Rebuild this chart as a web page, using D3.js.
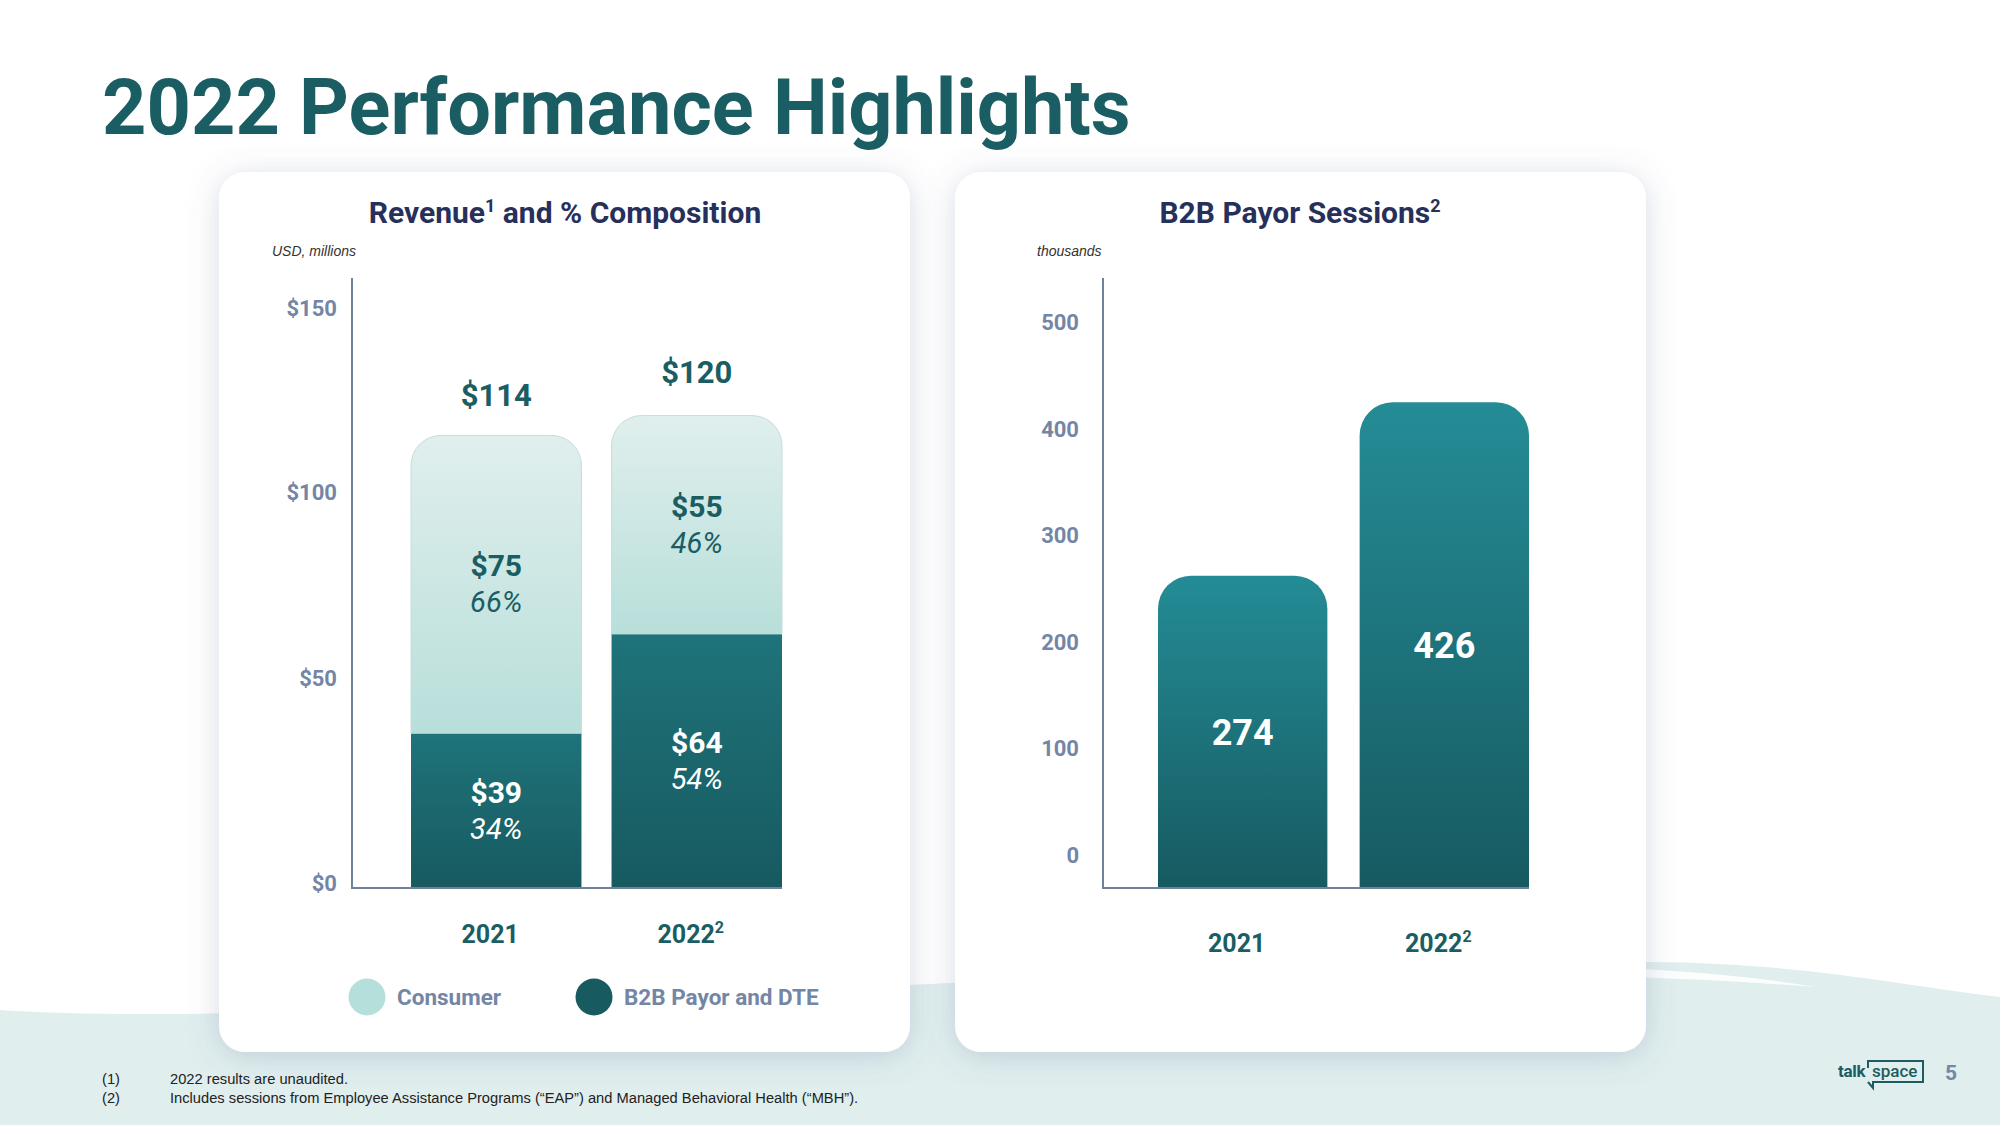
<!DOCTYPE html>
<html>
<head>
<meta charset="utf-8">
<script src="https://cdn.jsdelivr.net/npm/d3@7"></script>
<style>
  html, body { margin: 0; padding: 0; background: #ffffff; }
  svg { display: block; }
</style>
</head>
<body>
<svg id="chart" width="2000" height="1125"></svg>
<script>
// ---------------- DATA ----------------
const years = ["2021", "2022"];
const yearNotes = ["", "2"];
const consumerRevenue = [75, 55];      // USD millions
const b2bRevenue = [39, 64];           // USD millions
const totalRevenue = [114, 120];       // USD millions (as labelled)
const consumerPct = [66, 46];
const b2bPct = [34, 54];
const revenueTicks = [0, 50, 100, 150];
const sessions = [274, 426];           // thousands
const sessionTicks = [0, 100, 200, 300, 400, 500];
const legendLabels = ["Consumer", "B2B Payor and DTE"];
const footnotes = [
  ["(1)", "2022 results are unaudited."],
  ["(2)", "Includes sessions from Employee Assistance Programs (\u201cEAP\u201d) and Managed Behavioral Health (\u201cMBH\u201d)."]
];

// ---------------- SETUP ----------------
const svg = d3.select("#chart");
const FONT = "Roboto, 'Noto Sans', sans-serif";
const TEAL = "#1a5d63";
const NAVY = "#27305a";
const SLATE = "#7386a5";
const AXIS = "#6f819b";

const defs = svg.append("defs");
function vGrad(id, top, bottom) {
  const g = defs.append("linearGradient").attr("id", id)
    .attr("x1", 0).attr("y1", 0).attr("x2", 0).attr("y2", 1);
  g.append("stop").attr("offset", "0%").attr("stop-color", top);
  g.append("stop").attr("offset", "100%").attr("stop-color", bottom);
}
vGrad("gLight", "#e0efed", "#b8dfda");
vGrad("gDark", "#1f737a", "#175a60");
vGrad("gSess", "#248c96", "#175a61");

const f = defs.append("filter").attr("id", "shadow")
  .attr("x", "-10%").attr("y", "-10%").attr("width", "120%").attr("height", "120%");
f.append("feDropShadow").attr("dx", 0).attr("dy", 4).attr("stdDeviation", 15)
  .attr("flood-color", "#5f7398").attr("flood-opacity", 0.26);

// ---------------- BACKGROUND ----------------
svg.append("rect").attr("width", 2000).attr("height", 1125).attr("fill", "#ffffff");
svg.append("path")
  .attr("d", "M0,1010 C300,1032 1150,958 1650,962 C1800,963 1900,985 2000,997 L2000,1125 L0,1125 Z")
  .attr("fill", "#e0eeee");
svg.append("path")
  .attr("d", "M1560,966 C1650,968 1740,974 1815,987 C1740,981 1650,977 1560,975 Z")
  .attr("fill", "#ffffff").attr("opacity", 0.9);

// Title
svg.append("text").attr("x", 102).attr("y", 134)
  .attr("font-family", FONT).attr("font-weight", 700).attr("font-size", 77.5)
  .attr("fill", TEAL).text("2022 Performance Highlights");

// Cards
const cards = [{x: 219, y: 172, w: 691, h: 880}, {x: 955, y: 172, w: 691, h: 880}];
svg.selectAll("rect.card").data(cards).join("rect").attr("class", "card")
  .attr("x", d => d.x).attr("y", d => d.y).attr("width", d => d.w).attr("height", d => d.h)
  .attr("rx", 26).attr("fill", "#ffffff").attr("filter", "url(#shadow)");

// helper: text with superscripts. parts = [[str, isSup], ...]
function richText(sel, parts, supSize, rise) {
  parts.forEach(([s, sup], i) => {
    if (!s) return;
    const t = sel.append("tspan").text(s);
    if (sup) t.attr("font-size", supSize).attr("dy", -rise);
    else if (i > 0 && parts[i - 1][1]) t.attr("dy", rise);
  });
  return sel;
}

// top-rounded bar path
function topRounded(x, y, w, h, r) {
  r = Math.min(r, h, w / 2);
  const p = d3.path();
  p.moveTo(x, y + h);
  p.lineTo(x, y + r);
  p.arcTo(x, y, x + r, y, r);
  p.lineTo(x + w - r, y);
  p.arcTo(x + w, y, x + w, y + r, r);
  p.lineTo(x + w, y + h);
  p.closePath();
  return p.toString();
}

// ================= LEFT: Revenue =================
const L = svg.append("g");
richText(L.append("text").attr("x", 565).attr("y", 223).attr("text-anchor", "middle")
  .attr("font-family", FONT).attr("font-weight", 700).attr("font-size", 30).attr("fill", NAVY),
  [["Revenue", false], ["1", true], [" and % Composition", false]], 18, 11);
L.append("text").attr("x", 272).attr("y", 256)
  .attr("font-family", "'Liberation Sans', Arial, sans-serif").attr("font-style", "italic")
  .attr("font-size", 14).attr("fill", "#333").text("USD, millions");

const xL = d3.scaleBand().domain(years).range([411, 782]).paddingInner(0.15).paddingOuter(0);
const yL = d3.scaleLinear().domain([0, 150]).range([888, 888 - 150 * 3.97]);

// axis tick labels
const revTickDy = {0: "0.1em", 50: "-0.2em", 100: "0.4em", 150: "1.05em"};
const axL = L.append("g").attr("transform", "translate(352,0)")
  .call(d3.axisLeft(yL).tickValues(revenueTicks).tickSize(0).tickPadding(15).tickFormat(d => "$" + d));
axL.select(".domain").remove();
axL.selectAll("text").attr("font-family", FONT).attr("font-weight", 700).attr("font-size", 22)
  .attr("fill", SLATE).attr("dy", d => revTickDy[d]);

// bars: B2B bottom, Consumer on top
const revRows = years.map((y, i) => ({year: y, b2b: b2bRevenue[i], cons: consumerRevenue[i],
  total: totalRevenue[i], cp: consumerPct[i], bp: b2bPct[i]}));
L.selectAll("rect.b2b").data(revRows).join("rect").attr("class", "b2b")
  .attr("x", d => xL(d.year)).attr("width", xL.bandwidth())
  .attr("y", d => yL(d.b2b)).attr("height", d => yL(0) - yL(d.b2b))
  .attr("fill", "url(#gDark)");
L.selectAll("path.cons").data(revRows).join("path").attr("class", "cons")
  .attr("d", d => topRounded(xL(d.year), yL(d.b2b + d.cons), xL.bandwidth(), yL(d.b2b) - yL(d.b2b + d.cons), 30))
  .attr("fill", "url(#gLight)").attr("stroke", "#c4dedb").attr("stroke-width", 1);

// axis lines
L.append("line").attr("x1", 352).attr("x2", 352).attr("y1", 278).attr("y2", 889)
  .attr("stroke", AXIS).attr("stroke-width", 2);
L.append("line").attr("x1", 351).attr("x2", 782).attr("y1", 888).attr("y2", 888)
  .attr("stroke", AXIS).attr("stroke-width", 2);

// total labels
L.selectAll("text.tot").data(revRows).join("text").attr("class", "tot")
  .attr("x", d => xL(d.year) + xL.bandwidth() / 2).attr("y", d => yL(d.total) - 29)
  .attr("text-anchor", "middle").attr("font-family", FONT).attr("font-weight", 700)
  .attr("font-size", 31).attr("fill", TEAL).text(d => "$" + d.total);

// segment labels
function segLabels(sel, cls, getLo, getHi, getVal, getPct, color) {
  const g = sel.selectAll("g." + cls).data(revRows).join("g").attr("class", cls)
    .attr("transform", d => `translate(${xL(d.year) + xL.bandwidth() / 2},${(yL(getLo(d)) + yL(getHi(d))) / 2})`);
  g.append("text").attr("y", -8).attr("text-anchor", "middle").attr("font-family", FONT)
    .attr("font-weight", 700).attr("font-size", 30).attr("fill", color).text(d => "$" + getVal(d));
  g.append("text").attr("y", 28).attr("text-anchor", "middle").attr("font-family", FONT)
    .attr("font-weight", 400).attr("font-style", "italic").attr("font-size", 29).attr("fill", color)
    .text(d => getPct(d) + "%");
}
segLabels(L, "segC", d => d.b2b, d => d.b2b + d.cons, d => d.cons, d => d.cp, TEAL);
segLabels(L, "segB", d => 0, d => d.b2b, d => d.b2b, d => d.bp, "#ffffff");

// x labels
years.forEach((y, i) => {
  richText(L.append("text").attr("x", xL(y) + xL.bandwidth() / 2 - 6).attr("y", 943)
    .attr("text-anchor", "middle").attr("font-family", FONT).attr("font-weight", 700)
    .attr("font-size", 25).attr("fill", TEAL),
    [[y, false], [yearNotes[i], true]], 16, 10);
});

// legend
const legend = [{label: legendLabels[0], fill: "#b5dfda", cx: 367}, {label: legendLabels[1], fill: "#175a60", cx: 594}];
const lg = L.selectAll("g.lg").data(legend).join("g").attr("class", "lg")
  .attr("transform", d => `translate(${d.cx},997)`);
lg.append("circle").attr("r", 18.5).attr("fill", d => d.fill);
lg.append("text").attr("x", 30).attr("y", 8).attr("font-family", FONT).attr("font-weight", 700)
  .attr("font-size", 22.5).attr("fill", SLATE).text(d => d.label);

// ================= RIGHT: Sessions =================
const R = svg.append("g");
richText(R.append("text").attr("x", 1300).attr("y", 223).attr("text-anchor", "middle")
  .attr("font-family", FONT).attr("font-weight", 700).attr("font-size", 30).attr("fill", NAVY),
  [["B2B Payor Sessions", false], ["2", true]], 18, 11);
R.append("text").attr("x", 1037).attr("y", 256)
  .attr("font-family", "'Liberation Sans', Arial, sans-serif").attr("font-style", "italic")
  .attr("font-size", 14).attr("fill", "#333").text("thousands");

const xR = d3.scaleBand().domain(years).range([1158, 1529]).paddingInner(0.16).paddingOuter(0);
const yR = d3.scaleLinear().domain([0, 500]).range([888, 888 - 500 * 1.14]);

const axR = R.append("g").attr("transform", "translate(1103,0)")
  .call(d3.axisLeft(yR).tickValues(sessionTicks).tickSize(0).tickPadding(24).tickFormat(d3.format("d")));
axR.select(".domain").remove();
axR.selectAll("text").attr("font-family", FONT).attr("font-weight", 700).attr("font-size", 22)
  .attr("fill", SLATE).attr("dy", d => (0.53 - 1.7 * (1 - d / 500)) + "em");

const sesRows = years.map((y, i) => ({year: y, v: sessions[i]}));
R.selectAll("path.ses").data(sesRows).join("path").attr("class", "ses")
  .attr("d", d => topRounded(xR(d.year), yR(d.v), xR.bandwidth(), yR(0) - yR(d.v), 33))
  .attr("fill", "url(#gSess)");

R.append("line").attr("x1", 1103).attr("x2", 1103).attr("y1", 278).attr("y2", 889)
  .attr("stroke", AXIS).attr("stroke-width", 2);
R.append("line").attr("x1", 1102).attr("x2", 1529).attr("y1", 888).attr("y2", 888)
  .attr("stroke", AXIS).attr("stroke-width", 2);

R.selectAll("text.sv").data(sesRows).join("text").attr("class", "sv")
  .attr("x", d => xR(d.year) + xR.bandwidth() / 2).attr("y", d => (yR(0) + yR(d.v)) / 2 + 13)
  .attr("text-anchor", "middle").attr("font-family", FONT).attr("font-weight", 700)
  .attr("font-size", 36).attr("fill", "#ffffff").text(d => d.v);

years.forEach((y, i) => {
  richText(R.append("text").attr("x", xR(y) + xR.bandwidth() / 2 - 6).attr("y", 952)
    .attr("text-anchor", "middle").attr("font-family", FONT).attr("font-weight", 700)
    .attr("font-size", 25).attr("fill", TEAL),
    [[y, false], [yearNotes[i], true]], 16, 10);
});

// ================= FOOTER =================
const fn = svg.append("g").attr("font-family", "'Liberation Sans', Arial, sans-serif")
  .attr("font-size", 14.7).attr("fill", "#222");
footnotes.forEach((r, i) => {
  fn.append("text").attr("x", 102).attr("y", 1084 + i * 19).text(r[0]);
  fn.append("text").attr("x", 170).attr("y", 1084 + i * 19).text(r[1]);
});

// logo
const logo = svg.append("g");
logo.append("text").attr("x", 1838).attr("y", 1077).attr("font-family", FONT).attr("font-weight", 700)
  .attr("font-size", 17).attr("letter-spacing", -0.3).attr("fill", "#1d5c60").text("talk");
logo.append("path").attr("d", "M1868,1068 L1868,1061 L1923,1061 L1923,1082 L1873,1082 L1873,1088 L1868,1082")
  .attr("fill", "none").attr("stroke", "#1d5c60").attr("stroke-width", 2);
logo.append("text").attr("x", 1872).attr("y", 1077).attr("font-family", FONT).attr("font-weight", 500)
  .attr("font-size", 17).attr("fill", "#1d5c60").text("space");
svg.append("text").attr("x", 1951).attr("y", 1080).attr("text-anchor", "middle").attr("font-family", FONT)
  .attr("font-weight", 700).attr("font-size", 21).attr("fill", SLATE).text("5");
</script>
</body>
</html>
